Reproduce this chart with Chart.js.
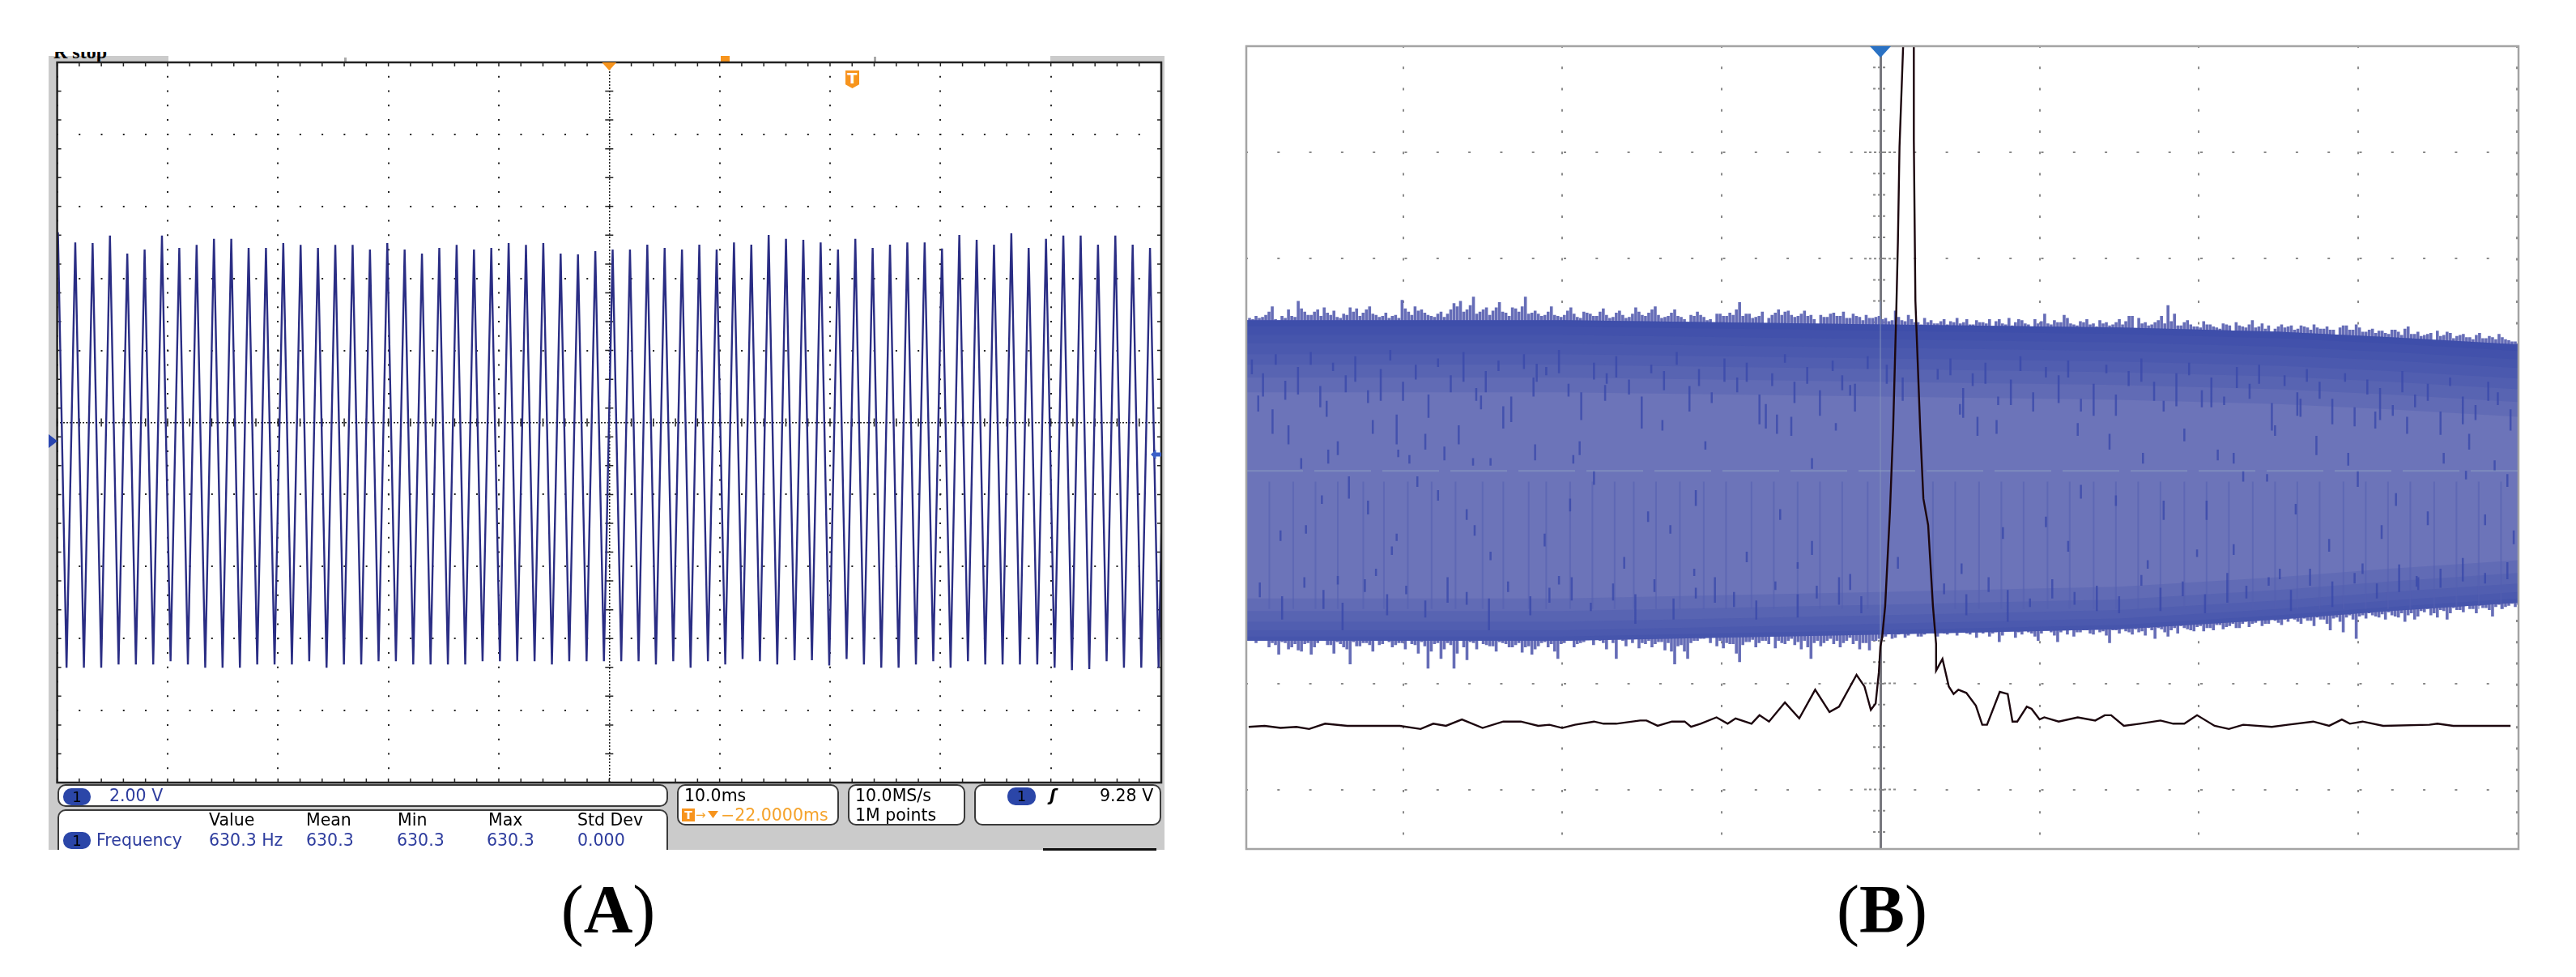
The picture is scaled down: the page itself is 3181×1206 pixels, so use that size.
<!DOCTYPE html>
<html>
<head>
<meta charset="utf-8">
<title>Oscilloscope traces</title>
<script src="https://cdn.jsdelivr.net/npm/chart.js@4/dist/chart.umd.js"></script>
<style>
  html, body { margin: 0; padding: 0; background: #fff; width: 3181px; height: 1206px; overflow: hidden; }
  canvas { position: absolute; }
  .g { position: absolute; background: #cbcbcb; }
  .box { position: absolute; background: #fff; border: 2px solid #3a3a3a; border-radius: 10px; box-sizing: border-box; }
  .t { position: absolute; font: 20.5px/24px "DejaVu Sans", sans-serif; white-space: nowrap; color: #000; }
  .n { color: #2e3d9e; }
  .o { color: #f5a32c; }
  .pill { position: absolute; background: #2b46a8; border-radius: 10px; color: #000; font: 18px/21px "DejaVu Sans", sans-serif; text-align: center; }
  .cap { position: absolute; top: 1073px; font: 84px/100px "Liberation Serif", serif; white-space: nowrap; transform: translateX(-50%); }
  .cap b { font-weight: bold; }
</style>
</head>
<body>
<!-- panel A housing -->
<div class="g" style="left:60px;top:69px;width:11px;height:980px"></div>
<div class="g" style="left:60px;top:69px;width:148px;height:9px"></div>
<div class="g" style="left:1297px;top:69px;width:141px;height:9px"></div>
<div class="g" style="left:1433px;top:69px;width:5px;height:980px"></div>
<div class="g" style="left:60px;top:965px;width:1378px;height:84px"></div>
<div style="position:absolute;left:66px;top:64px;width:90px;height:13px;overflow:hidden">
  <div class="t" style="left:0;top:-12px;font:bold 24px/24px 'Liberation Serif',serif">R stop</div>
</div>
<div style="position:absolute;left:890px;top:69px;width:11px;height:9px;background:#f7941d"></div>
<div style="position:absolute;left:1079px;top:70px;width:3px;height:7px;background:#aaa"></div>
<div style="position:absolute;left:425px;top:71px;width:3px;height:6px;background:#aaa"></div>

<canvas id="chartA" width="1372" height="897" style="left:66px;top:73px"></canvas>
<canvas id="chartB" width="1579" height="999" style="left:1535px;top:53px"></canvas>

<div style="position:absolute;left:1044px;top:87px;width:17px;height:22px;background:#f7941d;color:#fff;font:bold 18px/19px 'DejaVu Sans',sans-serif;text-align:center;clip-path:polygon(0 0,100% 0,100% 78%,50% 100%,0 78%)">T</div>
<div style="position:absolute;left:60px;top:536px;width:11px;height:17px;background:#2a46b0;clip-path:polygon(0 0,100% 50%,0 100%)"></div>
<div style="position:absolute;left:1421px;top:555px;width:13px;height:12px;background:#3a5fc8;clip-path:polygon(0 50%,50% 0,50% 30%,100% 30%,100% 70%,50% 70%,50% 100%)"></div>

<!-- panel A readouts -->
<div class="box" style="left:71px;top:968px;width:754px;height:28px"></div>
<div class="pill" style="left:78px;top:973px;width:34px;height:21px">1</div>
<div class="t n" style="left:135px;top:970px">2.00 V</div>
<div style="position:absolute;left:71px;top:999px;width:754px;height:50px;overflow:hidden">
  <div class="box" style="left:0;top:0;width:754px;height:70px"></div>
</div>
<div class="t" style="left:258px;top:1000px">Value</div>
<div class="t" style="left:378px;top:1000px">Mean</div>
<div class="t" style="left:491px;top:1000px">Min</div>
<div class="t" style="left:603px;top:1000px">Max</div>
<div class="t" style="left:713px;top:1000px">Std Dev</div>
<div class="pill" style="left:78px;top:1027px;width:34px;height:21px">1</div>
<div class="t n" style="left:119px;top:1025px">Frequency</div>
<div class="t n" style="left:258px;top:1025px">630.3 Hz</div>
<div class="t n" style="left:378px;top:1025px">630.3</div>
<div class="t n" style="left:490px;top:1025px">630.3</div>
<div class="t n" style="left:601px;top:1025px">630.3</div>
<div class="t n" style="left:713px;top:1025px">0.000</div>

<div class="box" style="left:836px;top:968px;width:200px;height:51px"></div>
<div class="t" style="left:845px;top:970px">10.0ms</div>
<div style="position:absolute;left:842px;top:998px;width:16px;height:16px;background:#f7941d;color:#fff;font:bold 14px/16px 'DejaVu Sans',sans-serif;text-align:center">T</div>
<div class="t o" style="left:859px;top:994px;font-size:15px">→</div>
<div style="position:absolute;left:874px;top:1001px;width:13px;height:9px;background:#f7941d;clip-path:polygon(0 0,100% 0,50% 100%)"></div>
<div class="t o" style="left:890px;top:994px">−22.0000ms</div>
<div class="box" style="left:1047px;top:968px;width:145px;height:51px"></div>
<div class="t" style="left:1056px;top:970px">10.0MS/s</div>
<div class="t" style="left:1056px;top:994px">1M points</div>
<div class="box" style="left:1203px;top:968px;width:231px;height:51px"></div>
<div class="pill" style="left:1244px;top:972px;width:35px;height:22px">1</div>
<div class="t" style="left:1296px;top:970px;font-weight:bold;font-style:italic">ʃ</div>
<div class="t" style="left:1358px;top:970px">9.28 V</div>
<div style="position:absolute;left:1288px;top:1047px;width:140px;height:3px;background:#111"></div>

<div class="cap" style="left:751px">(<b>A</b>)</div>
<div class="cap" style="left:2324px">(<b>B</b>)</div>

<script>
// panel A: 10 ms/div, 2 V/div. turning points of the 630 Hz trace
const peakTimes = [0.07,1.64,3.21,4.78,6.35,7.92,9.49,11.06,12.63,14.20,15.77,17.34,18.91,20.48,22.05,23.62,25.19,26.76,28.33,29.90,31.47,33.04,34.61,36.18,37.75,39.32,40.89,42.46,44.03,45.60,47.17,48.74,50.31,51.88,53.45,55.02,56.59,58.16,59.73,61.30,62.87,64.44,66.01,67.58,69.15,70.72,72.29,73.86,75.43,77.00,78.57,80.14,81.71,83.28,84.85,86.42,87.99,89.56,91.13,92.70,94.27,95.84,97.41,98.98,100.55];
const peakVolts = [5.28,5.00,4.98,5.19,4.69,4.80,5.19,4.85,4.93,5.10,5.10,4.85,4.85,4.98,4.93,4.85,4.93,4.93,4.80,4.98,4.80,4.69,4.85,4.93,4.80,4.85,4.98,4.93,4.98,4.69,4.67,4.76,4.80,4.80,4.94,4.85,4.80,4.94,4.80,5.00,4.94,5.21,5.10,5.07,5.00,4.80,5.10,4.85,4.94,5.00,5.00,4.83,5.21,5.07,4.94,5.25,4.85,5.10,5.19,5.19,4.94,5.19,4.94,4.85,4.90];
const troughTimes = [0.85,2.42,3.99,5.56,7.13,8.70,10.27,11.84,13.41,14.98,16.55,18.12,19.69,21.26,22.83,24.40,25.97,27.54,29.11,30.68,32.25,33.82,35.39,36.96,38.53,40.10,41.67,43.24,44.81,46.38,47.95,49.52,51.09,52.66,54.23,55.80,57.37,58.94,60.51,62.08,63.65,65.22,66.79,68.36,69.93,71.50,73.07,74.64,76.21,77.78,79.35,80.92,82.49,84.06,85.63,87.20,88.77,90.34,91.91,93.48,95.05,96.62,98.19,99.76];
const troughVolts = [-6.81,-6.81,-6.81,-6.72,-6.72,-6.72,-6.63,-6.72,-6.81,-6.81,-6.81,-6.72,-6.72,-6.72,-6.63,-6.81,-6.72,-6.72,-6.63,-6.63,-6.72,-6.72,-6.72,-6.72,-6.63,-6.63,-6.63,-6.63,-6.72,-6.63,-6.63,-6.63,-6.63,-6.63,-6.72,-6.63,-6.81,-6.63,-6.72,-6.57,-6.63,-6.72,-6.60,-6.60,-6.75,-6.57,-6.72,-6.81,-6.81,-6.72,-6.63,-6.81,-6.63,-6.72,-6.72,-6.72,-6.72,-6.81,-6.88,-6.85,-6.63,-6.81,-6.81,-6.81];

// panel B: units are graticule divisions. noise envelope sampled across the screen
const bandTop = [1.42,1.43,1.44,1.47,1.55,1.37,1.44,1.46,1.60,1.50,1.47,1.52,1.54,1.47,1.45,1.48,1.54,1.53,1.49,1.55,1.47,1.46,1.44,1.47,1.61,1.50,1.55,1.52,1.47,1.45,1.50,1.48,1.58,1.60,1.52,1.64,1.50,1.54,1.51,1.59,1.49,1.54,1.50,1.64,1.49,1.48,1.47,1.55,1.46,1.47,1.54,1.45,1.50,1.48,1.46,1.53,1.44,1.49,1.47,1.45,1.54,1.47,1.49,1.55,1.44,1.46,1.52,1.45,1.37,1.46,1.47,1.42,1.38,1.48,1.46,1.47,1.59,1.48,1.44,1.46,1.38,1.47,1.52,1.50,1.47,1.46,1.51,1.47,1.37,1.45,1.48,1.46,1.50,1.44,1.46,1.42,1.44,1.45,1.43,
  1.41,1.51,1.42,1.47,1.40,1.38,1.40,1.39,1.41,1.38,1.40,1.39,1.43,1.38,1.40,1.39,1.28,1.43,1.38,1.37,1.43,1.39,1.36,1.39,1.48,1.38,1.40,1.47,1.39,1.37,1.40,1.38,1.36,1.39,1.37,1.40,1.38,1.46,1.30,1.39,1.37,1.40,1.46,1.56,1.48,1.37,1.42,1.36,1.35,1.38,1.36,1.34,1.38,1.30,1.37,1.35,1.42,1.36,1.34,1.30,1.36,1.35,1.37,1.34,1.36,1.33,1.35,1.34,1.33,1.26,1.37,1.33,1.38,1.31,1.33,1.30,1.32,1.29,1.33,1.28,1.36,1.29,1.27,1.29,1.21,1.27,1.31,1.25,1.28,1.26,1.24,1.30,1.25,1.26,1.29,1.24,1.22,1.20];
const bandBottom = [-1.56,-1.52,-1.58,-1.60,-1.62,-1.73,-1.62,-1.66,-1.69,-1.63,-1.73,-1.62,-1.60,-1.64,-1.61,-1.66,-1.82,-1.65,-1.62,-1.64,-1.60,-1.63,-1.61,-1.64,-1.62,-1.60,-1.64,-1.61,-1.86,-1.63,-1.77,-1.62,-1.86,-1.60,-1.78,-1.62,-1.60,-1.64,-1.65,-1.61,-1.63,-1.66,-1.62,-1.66,-1.73,-1.65,-1.61,-1.63,-1.77,-1.62,-1.60,-1.63,-1.61,-1.58,-1.54,-1.62,-1.58,-1.77,-1.60,-1.52,-1.58,-1.62,-1.60,-1.63,-1.61,-1.62,-1.82,-1.64,-1.77,-1.60,-1.58,-1.56,-1.53,-1.60,-1.62,-1.63,-1.80,-1.61,-1.59,-1.62,-1.60,-1.55,-1.60,-1.63,-1.58,-1.61,-1.60,-1.77,-1.60,-1.62,-1.58,-1.60,-1.62,-1.57,-1.60,-1.62,-1.69,-1.60,-1.57,
  -1.53,-1.57,-1.50,-1.55,-1.52,-1.56,-1.51,-1.53,-1.50,-1.54,-1.51,-1.49,-1.53,-1.50,-1.52,-1.49,-1.53,-1.61,-1.51,-1.48,-1.52,-1.50,-1.53,-1.60,-1.50,-1.52,-1.61,-1.50,-1.48,-1.52,-1.50,-1.53,-1.49,-1.51,-1.62,-1.50,-1.47,-1.52,-1.49,-1.51,-1.48,-1.58,-1.49,-1.56,-1.48,-1.46,-1.49,-1.51,-1.46,-1.48,-1.50,-1.45,-1.47,-1.44,-1.48,-1.42,-1.44,-1.41,-1.44,-1.40,-1.43,-1.40,-1.38,-1.42,-1.39,-1.41,-1.38,-1.40,-1.50,-1.38,-1.52,-1.36,-1.58,-1.36,-1.34,-1.37,-1.35,-1.33,-1.37,-1.34,-1.36,-1.40,-1.32,-1.30,-1.34,-1.31,-1.40,-1.29,-1.31,-1.27,-1.30,-1.27,-1.29,-1.37,-1.26,-1.28,-1.25,-1.26];
// the smaller teeth sitting between the samples above
const fineTop = [1.44,1.46,1.45,1.50,1.43,1.46,1.52,1.45,1.53,1.47,1.50,1.46,1.49,1.51,1.44,1.47,1.50,1.46,1.52,1.48,1.45,1.49,1.46,1.44,1.53,1.47,1.51,1.49,1.46,1.48,1.45,1.52,1.55,1.50,1.56,1.48,1.52,1.47,1.54,1.50,1.46,1.53,1.55,1.48,1.51,1.46,1.50,1.47,1.45,1.51,1.48,1.44,1.49,1.46,1.50,1.47,1.45,1.51,1.44,1.48,1.50,1.46,1.52,1.47,1.45,1.49,1.46,1.43,1.47,1.50,1.45,1.43,1.48,1.46,1.49,1.52,1.46,1.48,1.45,1.50,1.44,1.49,1.47,1.51,1.45,1.48,1.46,1.43,1.47,1.45,1.49,1.46,1.44,1.48,1.45,1.47,1.44,1.46,
  1.44,1.42,1.45,1.41,1.43,1.40,1.44,1.42,1.39,1.43,1.41,1.44,1.40,1.38,1.42,1.40,1.43,1.41,1.39,1.44,1.40,1.42,1.38,1.43,1.41,1.39,1.42,1.40,1.44,1.38,1.41,1.43,1.39,1.42,1.40,1.38,1.43,1.41,1.46,1.44,1.40,1.38,1.42,1.39,1.41,1.37,1.40,1.38,1.36,1.41,1.38,1.35,1.39,1.37,1.40,1.36,1.38,1.35,1.39,1.37,1.34,1.38,1.36,1.33,1.37,1.35,1.38,1.34,1.36,1.33,1.35,1.37,1.33,1.35,1.31,1.34,1.32,1.30,1.33,1.31,1.34,1.29,1.31,1.28,1.30,1.32,1.28,1.30,1.27,1.29,1.26,1.28,1.25,1.27,1.24,1.26,1.23,1.22];
const fineBottom = [-1.58,-1.62,-1.60,-1.66,-1.64,-1.61,-1.68,-1.63,-1.70,-1.62,-1.66,-1.60,-1.64,-1.72,-1.63,-1.68,-1.61,-1.65,-1.62,-1.70,-1.64,-1.60,-1.66,-1.62,-1.68,-1.63,-1.72,-1.65,-1.70,-1.62,-1.68,-1.64,-1.72,-1.66,-1.61,-1.68,-1.63,-1.65,-1.70,-1.62,-1.66,-1.64,-1.71,-1.65,-1.68,-1.62,-1.66,-1.70,-1.63,-1.60,-1.66,-1.62,-1.58,-1.64,-1.60,-1.68,-1.62,-1.58,-1.65,-1.62,-1.67,-1.63,-1.66,-1.61,-1.69,-1.70,-1.65,-1.70,-1.62,-1.60,-1.58,-1.62,-1.65,-1.67,-1.63,-1.72,-1.64,-1.61,-1.66,-1.60,-1.63,-1.67,-1.62,-1.60,-1.64,-1.68,-1.66,-1.62,-1.65,-1.60,-1.63,-1.66,-1.60,-1.63,-1.68,-1.62,-1.60,-1.58,
  -1.56,-1.58,-1.54,-1.57,-1.53,-1.56,-1.54,-1.52,-1.56,-1.53,-1.51,-1.55,-1.52,-1.54,-1.57,-1.53,-1.56,-1.52,-1.55,-1.51,-1.57,-1.54,-1.52,-1.56,-1.53,-1.50,-1.55,-1.52,-1.54,-1.56,-1.52,-1.50,-1.54,-1.52,-1.55,-1.50,-1.53,-1.51,-1.54,-1.52,-1.55,-1.50,-1.48,-1.52,-1.50,-1.53,-1.48,-1.50,-1.47,-1.51,-1.48,-1.45,-1.49,-1.46,-1.48,-1.44,-1.47,-1.43,-1.46,-1.44,-1.41,-1.45,-1.42,-1.40,-1.44,-1.41,-1.46,-1.40,-1.44,-1.39,-1.42,-1.38,-1.40,-1.37,-1.39,-1.36,-1.38,-1.40,-1.36,-1.38,-1.42,-1.34,-1.37,-1.33,-1.36,-1.38,-1.32,-1.34,-1.31,-1.33,-1.30,-1.34,-1.29,-1.31,-1.28,-1.30,-1.27,-1.28];

// dense part of the envelope, where the blue saturates
const coreTimes = [-3.985,-2,0,1.5,2.5,3.2,4.01];
const coreTop = [1.42,1.42,1.38,1.35,1.31,1.26,1.19];
const coreBottom = [-1.60,-1.60,-1.54,-1.49,-1.40,-1.32,-1.24];
const upperDepths = [0.06,0.14,0.22,0.32,0.42,0.54,0.68];
const lowerDepths = [0.04,0.10,0.18,0.28,0.40];

// darker streaks inside the envelope
const streakTimes = [-3.91,-3.82,-3.72,-3.64,-3.48,-3.47,-3.41,-3.19,-3.04,-3.03,-2.96,-2.86,-2.74,-2.65,-2.56,-2.51,-2.45,-2.37,-2.17,-2.16,-1.89,-1.93,-1.73,-1.37,-1.10,-0.72,-0.65,-0.56,-0.43,-0.28,-0.19,-2.91,-3.34,-2.78,-2.60,-3.51,-3.22,-3.07,-3.04,-3.17,-3.41,-3.77,-3.61,-2.55,-2.11,-1.95,-1.80,-1.46,-1.16,-1.32,-0.63,-0.43,-0.84,-1.61,-2.02,-2.45,-1.17,-0.19,-0.52,0.61,0.73,0.50,1.24,1.44,1.65,1.86,1.91,2.12,2.22,2.48,2.64,2.74,2.94,3.11,3.31,3.54,3.70,3.86,2.28,2.43,3.00,3.68,3.94,3.24,2.61,2.05,2.22,1.99,1.26,1.48,1.04,0.77,1.18,1.78,2.82,3.15,3.44,3.80,3.98,2.51,3.03,3.37,1.68,0.51,0.11];
const streakHigh = [0.71,0.58,0.43,0.12,0.66,0.20,0.28,0.48,0.53,0.20,0.15,0.35,0.23,0.43,0.12,0.71,0.12,0.61,0.25,1.01,0.28,0.15,0.81,0.48,0.28,0.63,0.53,0.51,0.12,0.45,0.81,-0.05,-0.05,-0.18,-0.36,-0.23,-0.28,-0.71,-0.59,-0.92,-0.99,-0.56,-0.51,-0.51,-0.59,-0.26,0,-0.38,-0.18,-0.51,-0.36,-0.66,-0.76,-0.81,-0.99,-0.76,-0.92,-0.97,-0.86,0.51,0.48,0.63,0.45,0.35,0.17,0.76,0.40,0.20,0.17,0.43,0.68,0.33,0.17,0.56,0.51,0.17,0.35,0.10,0,-0.03,0,0,-0.03,-0.21,-0.31,-0.28,-0.69,-0.74,-0.13,-0.23,-0.43,-0.53,-0.66,-0.28,-0.64,-0.51,-0.38,-0.41,-0.56,-0.92,-0.87,-0.99,-0.84,-0.87,-0.81];
const streakLow = [0.56,0.35,0.25,0.02,0.51,0.07,0.15,0.35,0.25,0.13,0.07,0.20,0.10,0.25,0.05,0.58,0.05,0.40,0.10,0.84,0.15,0.07,0.66,0.38,0.20,0.40,0.35,0.33,0.02,0.38,0.71,-0.15,-0.26,-0.28,-0.46,-0.31,-0.41,-0.79,-0.66,-0.99,-1.07,-0.66,-0.59,-0.61,-0.71,-0.38,-0.13,-0.48,-0.33,-0.59,-0.46,-0.79,-0.86,-0.92,-1.07,-0.84,-0.99,-1.12,-0.92,0.33,0.35,0.53,0.33,0.20,0.07,0.61,0.28,0.10,0.07,0.33,0.51,0.15,0.05,0.40,0.35,0.07,0.20,0,-0.10,-0.10,-0.15,-0.08,-0.15,-0.33,-0.41,-0.46,-0.79,-0.81,-0.26,-0.33,-0.53,-0.64,-0.76,-0.46,-0.76,-0.64,-0.51,-0.51,-0.69,-1.02,-0.97,-1.09,-0.92,-0.97,-0.92];
// short streaks crowding the upper and lower dark bands
const upperStreakTimes = [-3.95,-3.88,-3.80,-3.74,-3.66,-3.58,-3.52,-3.44,-3.36,-3.30,-3.22,-3.14,-3.08,-3.00,-2.92,-2.84,-2.78,-2.70,-2.62,-2.54,-2.48,-2.40,-2.32,-2.24,-2.18,-2.10,-2.02,-1.96,-1.88,-1.80,-1.72,-1.66,-1.58,-1.50,-1.44,-1.36,-1.28,-1.20,-1.14,-1.06,-0.98,-0.90,-0.84,-0.76,-0.68,-0.60,-0.54,-0.46,-0.38,-0.30,-0.24,-0.16,-0.08,0.04,0.14,0.36,0.44,0.52,0.58,0.66,0.74,0.82,0.88,0.96,1.04,1.12,1.18,1.26,1.34,1.42,1.48,1.56,1.64,1.72,1.78,1.86,1.94,2.02,2.08,2.16,2.24,2.32,2.38,2.46,2.54,2.62,2.68,2.76,2.84,2.92,2.98,3.06,3.14,3.22,3.28,3.36,3.44,3.52,3.58,3.66,3.74,3.82,3.88,3.96];
const upperStreakHigh = [1.05,0.92,1.10,0.85,0.98,1.12,0.80,1.02,0.90,1.08,0.76,0.96,1.14,0.84,1.00,0.72,1.06,0.90,1.12,0.78,0.94,1.04,0.70,1.10,0.88,0.98,1.14,0.82,0.74,1.02,0.92,1.08,0.86,0.70,1.00,0.94,1.12,0.80,0.96,0.74,1.06,0.88,1.02,0.72,0.92,1.10,0.84,0.98,0.76,1.04,0.90,0.82,1.08,1.00,0.88,0.96,1.06,0.78,0.92,1.02,0.70,0.86,1.08,0.74,0.98,0.90,1.04,0.68,0.82,1.00,0.72,0.94,1.06,0.84,0.66,0.92,1.02,0.76,0.88,0.70,0.98,0.82,1.00,0.64,0.90,0.74,0.96,0.84,0.68,0.92,0.60,0.86,0.78,0.62,0.94,0.72,0.82,0.56,0.88,0.70,0.62,0.84,0.74,0.58];
const lowerStreakTimes = [-3.90,-3.76,-3.62,-3.50,-3.38,-3.24,-3.10,-2.98,-2.86,-2.72,-2.60,-2.46,-2.34,-2.20,-2.08,-1.94,-1.82,-1.68,-1.54,-1.42,-1.30,-1.16,-1.04,-0.92,-0.78,-0.66,-0.52,-0.40,-0.26,-0.12,0.40,0.54,0.68,0.80,0.94,1.08,1.22,1.36,1.50,1.64,1.76,1.90,2.04,2.18,2.30,2.44,2.58,2.70,2.84,2.98,3.12,3.26,3.38,3.52,3.66,3.80,3.94];
const lowerStreakHigh = [-1.05,-1.18,-1.00,-1.12,-1.24,-1.02,-1.16,-1.08,-1.22,-1.00,-1.14,-1.20,-1.04,-1.18,-1.10,-1.00,-1.24,-1.06,-1.16,-1.02,-1.20,-1.10,-1.00,-1.14,-1.22,-1.04,-1.16,-1.08,-1.00,-1.18,-1.06,-1.16,-1.00,-1.12,-1.20,-1.02,-1.14,-1.08,-1.18,-0.98,-1.10,-1.04,-1.16,-0.96,-1.08,-1.00,-1.12,-0.92,-1.04,-0.96,-1.06,-0.88,-1.00,-0.92,-0.82,-0.96,-0.86];
const streakSpans = [0.14,0.22,0.10,0.18,0.26,0.12,0.20,0.08,0.16,0.24,0.12,0.30,0.10,0.18,0.14,0.22,0.08,0.16,0.28,0.12,0.20,0.10,0.24,0.14,0.18,0.08,0.22,0.12,0.26,0.16,0.10,0.20,0.14,0.30,0.08,0.18,0.12,0.24,0.16,0.10,0.22,0.14,0.18,0.28,0.12,0.08,0.20,0.16,0.24,0.10,0.14,0.26,0.12,0.18,0.22,0.10,0.16,0.28,0.12,0.20,0.08,0.24,0.14,0.18,0.10,0.26,0.16,0.12,0.30,0.08,0.20,0.14,0.22,0.18,0.10,0.24,0.12,0.16,0.28,0.08,0.20,0.14,0.18,0.26,0.10,0.22,0.12,0.16,0.24,0.08,0.18,0.14,0.30,0.10,0.20,0.12,0.16,0.22,0.08,0.26,0.14,0.18,0.12,0.20];
// long faint comb lines in the lower half
const combTimes = [-3.84,-3.69,-3.55,-3.41,-3.25,-3.12,-2.97,-2.82,-2.67,-2.50,-2.37,-2.21,-2.10,-1.95,-1.81,-1.67,-1.55,-1.41,-1.26,-1.11,-0.97,-0.81,-0.67,-0.52,-0.38,-0.24,-0.08,0.33,0.47,0.62,0.76,0.90,1.05,1.19,1.34,1.48,1.62,1.76,1.91,2.05,2.19,2.34,2.48,2.62,2.76,2.91,3.05,3.19,3.33,3.48,3.62,3.76,3.90];

// the pulse trace
const pulseTimes = [-3.97,-3.87,-3.77,-3.67,-3.59,-3.49,-3.35,-3.02,-2.89,-2.81,-2.73,-2.63,-2.50,-2.37,-2.26,-2.15,-2.08,-2.00,-1.92,-1.80,-1.74,-1.66,-1.51,-1.47,-1.40,-1.31,-1.23,-1.19,-1.13,-1.03,-0.96,-0.91,-0.81,-0.76,-0.70,-0.60,-0.51,-0.41,-0.32,-0.26,-0.15,-0.10,-0.06,-0.03,-0.01,0,0.01,0.03,0.06,0.08,0.10,0.11,0.12,0.14,0.15,0.21,0.21,0.22,0.25,0.27,0.30,0.33,0.35,0.35,0.39,0.43,0.46,0.49,0.54,0.60,0.64,0.67,0.75,0.80,0.83,0.86,0.92,0.95,1.00,1.03,1.12,1.24,1.35,1.41,1.45,1.53,1.63,1.76,1.84,1.91,1.99,2.10,2.19,2.28,2.46,2.56,2.72,2.82,2.90,2.95,3.03,3.16,3.45,3.50,3.60,3.96];
const pulseVolts = [-2.41,-2.40,-2.42,-2.41,-2.43,-2.38,-2.40,-2.40,-2.43,-2.38,-2.40,-2.34,-2.42,-2.36,-2.36,-2.40,-2.39,-2.42,-2.39,-2.36,-2.38,-2.38,-2.35,-2.35,-2.40,-2.36,-2.36,-2.41,-2.38,-2.32,-2.38,-2.33,-2.38,-2.30,-2.36,-2.18,-2.33,-2.06,-2.27,-2.22,-1.92,-2.03,-2.25,-2.19,-1.90,-1.65,-1.58,-1.27,-0.38,0.40,1.52,2.16,3.05,3.88,4.30,4.30,3.12,1.60,0.40,-0.26,-0.51,-1.27,-1.63,-1.88,-1.77,-2.03,-2.10,-2.06,-2.09,-2.21,-2.39,-2.39,-2.08,-2.10,-2.36,-2.36,-2.22,-2.24,-2.34,-2.32,-2.36,-2.32,-2.35,-2.30,-2.30,-2.40,-2.38,-2.35,-2.38,-2.38,-2.30,-2.40,-2.43,-2.39,-2.41,-2.39,-2.36,-2.40,-2.34,-2.38,-2.36,-2.40,-2.39,-2.38,-2.40,-2.40];

const ampTrace = [];
peakTimes.forEach((t, i) => {
  ampTrace.push({ x: t, y: peakVolts[i] });
  if (i < troughTimes.length) ampTrace.push({ x: troughTimes[i], y: troughVolts[i] });
});

const xMinB = -3.985, xMaxB = 4.01;
const sampleStep = (xMaxB - xMinB) / (bandTop.length - 1);
const pairs = (xs, ys) => xs.map((x, i) => ({ x: x, y: ys[i] }));

// vertical sticks, one dataset with gaps between them
function sticks(xs, fromY, toY) {
  const pts = [];
  xs.forEach((x, i) => {
    pts.push({ x: x, y: fromY(i) }, { x: x, y: toY(i) }, { x: x, y: null });
  });
  return pts;
}
const bandX = bandTop.map((_, i) => xMinB + i * sampleStep);
const fineX = fineTop.map((_, i) => xMinB + (i + 0.5) * sampleStep);
const teeth = [].concat(
  sticks(bandX, i => bandTop[i], () => 0),
  sticks(bandX, i => bandBottom[i], () => 0),
  sticks(fineX, i => fineTop[i], () => 0),
  sticks(fineX, i => fineBottom[i], () => 0)
);
const streakPts = [].concat(
  sticks(streakTimes, i => streakHigh[i], i => streakLow[i]),
  sticks(upperStreakTimes, i => upperStreakHigh[i], i => upperStreakHigh[i] - streakSpans[i]),
  sticks(lowerStreakTimes, i => lowerStreakHigh[i], i => lowerStreakHigh[i] - streakSpans[i])
);
const combPts = sticks(combTimes, () => -0.1, () => -1.3);

// short ticks on the edges and the centre cross go under the traces, frame on top
function scopeMarks(cfg) {
  return {
    id: 'scopeMarks',
    beforeDatasetsDraw(chart) {
      const { ctx, chartArea: a, scales: { x, y } } = chart;
      const cx = x.getPixelForValue(cfg.cx), cy = y.getPixelForValue(cfg.cy);
      ctx.save();
      ctx.strokeStyle = cfg.tickColor;
      ctx.lineWidth = cfg.tickWidth;
      ctx.beginPath();
      for (let v = cfg.cx - cfg.xMinor * 5 * cfg.xHalf; v <= cfg.cx + cfg.xMinor * 5 * cfg.xHalf + 1e-6; v += cfg.xMinor) {
        const p = x.getPixelForValue(v);
        if (p < a.left || p > a.right) continue;
        if (cfg.edgeTicks) {
          ctx.moveTo(p, a.top); ctx.lineTo(p, a.top + cfg.tick);
          ctx.moveTo(p, a.bottom); ctx.lineTo(p, a.bottom - cfg.tick);
        }
        ctx.moveTo(p, cy - cfg.tick); ctx.lineTo(p, cy + cfg.tick);
      }
      for (let v = cfg.yMin; v <= cfg.yMax + 1e-6; v += cfg.yMinor) {
        const p = y.getPixelForValue(v);
        if (cfg.edgeTicks) {
          ctx.moveTo(a.left, p); ctx.lineTo(a.left + cfg.tick, p);
          ctx.moveTo(a.right, p); ctx.lineTo(a.right - cfg.tick, p);
        }
        const major = Math.abs(v / cfg.yMajor - Math.round(v / cfg.yMajor)) < 1e-6;
        const len = major ? cfg.tickMajor : cfg.tick;
        ctx.setLineDash(cfg.tickDash);
        ctx.moveTo(cx - len, p); ctx.lineTo(cx + len, p);
      }
      ctx.stroke();
      ctx.restore();
    },
    afterDraw(chart) {
      const { ctx, chartArea: a, scales: { x } } = chart;
      const cx = x.getPixelForValue(cfg.cx);
      ctx.save();
      ctx.strokeStyle = cfg.frameColor;
      ctx.lineWidth = cfg.frameWidth;
      ctx.strokeRect(a.left, a.top, a.right - a.left, a.bottom - a.top);
      // trigger marker
      ctx.fillStyle = cfg.markColor;
      ctx.beginPath();
      ctx.moveTo(cx - cfg.mark, a.top);
      ctx.lineTo(cx + cfg.mark, a.top);
      ctx.lineTo(cx, a.top + cfg.mark * 1.1);
      ctx.closePath();
      ctx.fill();
      ctx.restore();
    }
  };
}

function scale(min, max, step, center, dash, dense, color, centerColor, centerWidth) {
  return {
    type: 'linear', min: min, max: max,
    ticks: { display: false, stepSize: step, includeBounds: false },
    grid: {
      drawTicks: false,
      color: c => (c.tick && c.tick.value === center) ? centerColor : color,
      lineWidth: c => (c.tick && c.tick.value === center) ? centerWidth : 2
    },
    border: {
      display: false,
      dash: c => (c.tick && c.tick.value === center) ? dense : dash,
      dashOffset: 1
    }
  };
}

new Chart(document.getElementById('chartA'), {
  type: 'line',
  data: { datasets: [{
    data: ampTrace, borderColor: '#2a2d84', borderWidth: 2.4, pointRadius: 0, tension: 0
  }] },
  options: {
    responsive: false, animation: false, devicePixelRatio: 1,
    layout: { padding: { left: 4.6, top: 4, right: 4, bottom: 4 } },
    plugins: { legend: { display: false }, tooltip: { enabled: false } },
    scales: {
      x: scale(0, 100, 10, 50, [2, 15.78], [2, 2], '#222', '#222', 1.5),
      y: scale(-10, 10, 2, 0, [2, 25.26], [2, 2], '#222', '#222', 1.5)
    }
  },
  plugins: [scopeMarks({ cx: 50, cy: 0, xMinor: 2, xHalf: 10, yMin: -10, yMax: 10, yMinor: 0.8, yMajor: 2, tick: 5, tickMajor: 5, tickDash: [],
    edgeTicks: true, tickColor: '#222', tickWidth: 1.5, frameColor: '#222', frameWidth: 2.5, markColor: '#f7941d', mark: 9 })]
});

// order matters: the first dataset ends up on top
const datasetsB = [
  { data: pairs(pulseTimes, pulseVolts), borderColor: '#1c070e', borderWidth: 2.4, pointRadius: 0, tension: 0 },
  { data: [{ x: xMinB, y: 0 }, { x: xMaxB, y: 0 }], borderColor: 'rgba(148,168,196,0.45)', borderWidth: 2, borderDash: [70, 14], pointRadius: 0 },
  { data: [{ x: 0, y: 1.6 }, { x: 0, y: -1.8 }], borderColor: 'rgba(130,145,185,0.5)', borderWidth: 2, pointRadius: 0 },
  { data: streakPts, borderColor: 'rgba(58,72,170,0.8)', borderWidth: 2.5, pointRadius: 0, spanGaps: false },
  { data: combPts, borderColor: 'rgba(84,94,176,0.55)', borderWidth: 2, pointRadius: 0, spanGaps: false }
];
const shade = 'rgba(46,66,164,0.17)';
const coreUp = pairs(coreTimes, coreTop);
const coreDown = pairs(coreTimes, coreBottom);
upperDepths.forEach(d => {
  datasetsB.push({ data: coreUp, borderWidth: 0, pointRadius: 0, fill: '+1', backgroundColor: shade });
  datasetsB.push({ data: coreUp.map(p => ({ x: p.x, y: p.y - d })), borderWidth: 0, pointRadius: 0, fill: false });
});
lowerDepths.forEach(d => {
  datasetsB.push({ data: coreDown.map(p => ({ x: p.x, y: p.y + d })), borderWidth: 0, pointRadius: 0, fill: '+1', backgroundColor: shade });
  datasetsB.push({ data: coreDown, borderWidth: 0, pointRadius: 0, fill: false });
});
datasetsB.push({ data: coreUp, borderWidth: 0, pointRadius: 0, fill: '+1', backgroundColor: '#6c74b9' });
datasetsB.push({ data: coreDown, borderWidth: 0, pointRadius: 0, fill: false });
datasetsB.push({ data: teeth, borderColor: '#666db7', borderWidth: 3.6, pointRadius: 0, spanGaps: false });

new Chart(document.getElementById('chartB'), {
  type: 'line',
  data: { datasets: datasetsB },
  options: {
    responsive: false, animation: false, devicePixelRatio: 1,
    layout: { padding: 4 },
    plugins: { legend: { display: false }, tooltip: { enabled: false } },
    scales: {
      x: scale(xMinB, xMaxB, 1, 0, [3, 23.26], [], '#8a8a8a', '#77777e', 3),
      y: scale(-3.56, 4, 1, 0, [3, 36.3], [3, 36.3], '#8a8a8a', '#8a8a8a', 2)
    }
  },
  plugins: [scopeMarks({ cx: 0, cy: 0, xMinor: 0.2, xHalf: 4, yMin: -3.4, yMax: 4, yMinor: 0.2, yMajor: 1, tick: 9, tickMajor: 20, tickDash: [3, 3],
    edgeTicks: false, tickColor: '#8a8a8a', tickWidth: 2, frameColor: '#a4a4a4', frameWidth: 2.5, markColor: '#2a72c4', mark: 13 })]
});
</script>
</body>
</html>
